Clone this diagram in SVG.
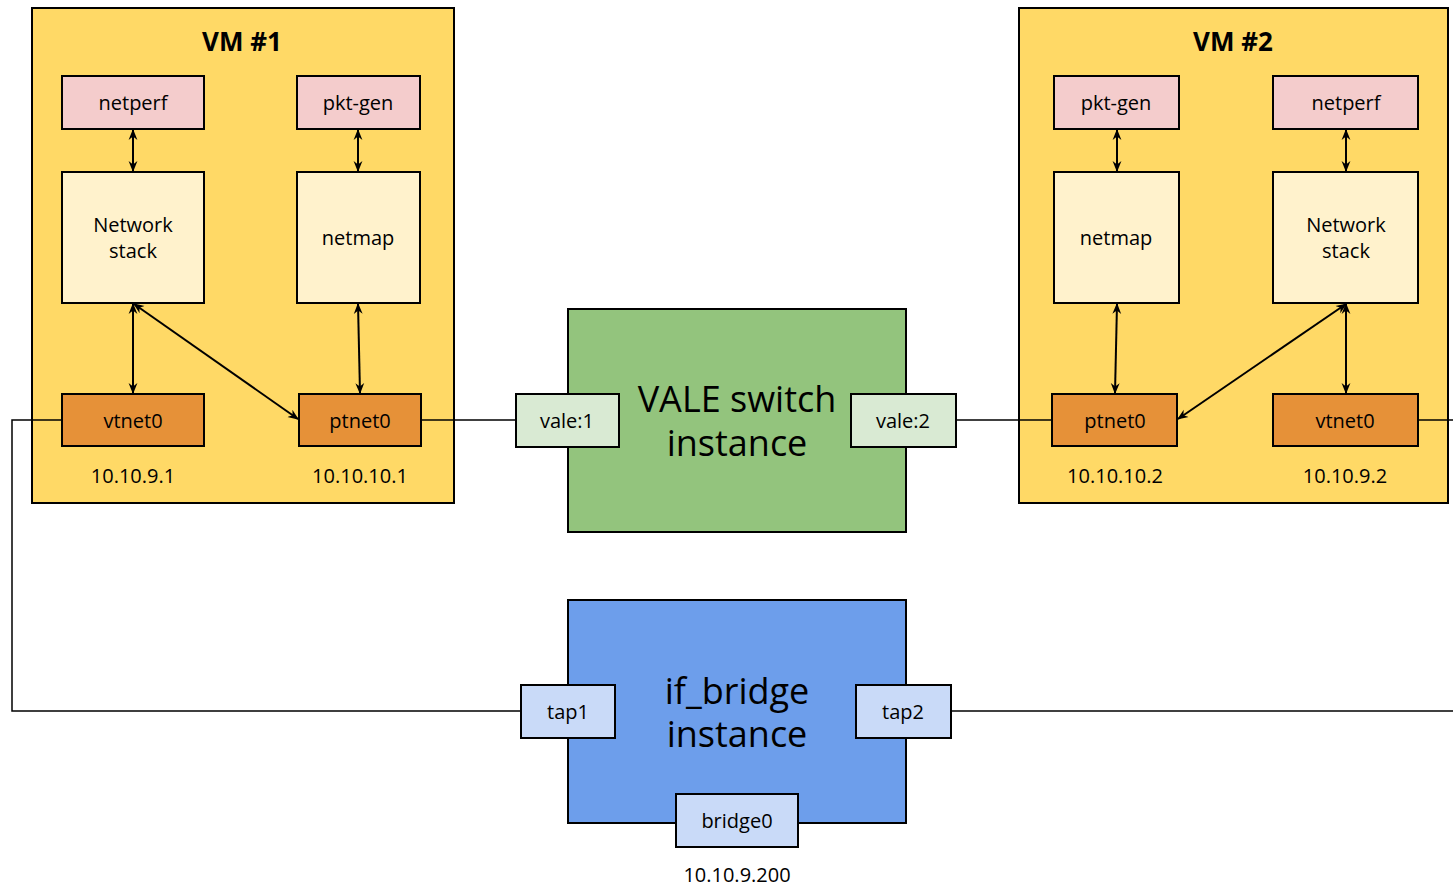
<svg xmlns="http://www.w3.org/2000/svg" width="1453" height="886" viewBox="0 0 1453 886">
  <defs>
    <style>
      text { font-family: "Open Sans", "Noto Sans", "Liberation Sans", sans-serif; fill: #000; text-anchor: middle; dominant-baseline: central; }
      .box { stroke: #000; stroke-width: 2; }
      .vm { fill: #ffd966; }
      .app { fill: #f4cccc; }
      .stack { fill: #fff2cc; }
      .nic { fill: #e69138; }
      .vale { fill: #93c47d; }
      .valeport { fill: #d9ead3; }
      .bridge { fill: #6d9eeb; }
      .bport { fill: #c9daf8; }
      .lbl { font-size: 20px; }
      .title { font-size: 26px; font-weight: bold; }
      .big { font-size: 36px; }
      .wire { fill: none; stroke: #000; stroke-width: 1.5; }
      .arr { fill: none; stroke: #000; stroke-width: 2; marker-start: url(#head); marker-end: url(#head); }
    </style>
    <marker id="head" viewBox="0 0 10 10" refX="9" refY="5" markerWidth="11" markerHeight="11" orient="auto-start-reverse" markerUnits="userSpaceOnUse">
      <path d="M0,1 L10,5 L0,9 L3,5 Z" fill="#000"/>
    </marker>
  </defs>

  <!-- VM #1 -->
  <g id="vm1">
    <rect class="box vm" x="32" y="8" width="422" height="495"/>
    <text class="title" x="242" y="41">VM #1</text>
  </g>
  <g id="vm1-netperf">
    <rect class="box app" x="62" y="76" width="142" height="53"/>
    <text class="lbl" x="133" y="102">netperf</text>
  </g>
  <g id="vm1-pktgen">
    <rect class="box app" x="297" y="76" width="123" height="53"/>
    <text class="lbl" x="358" y="102">pkt-gen</text>
  </g>
  <g id="vm1-stack">
    <rect class="box stack" x="62" y="172" width="142" height="131"/>
    <text class="lbl" x="133" y="224">Network</text>
    <text class="lbl" x="133" y="250">stack</text>
  </g>
  <g id="vm1-netmap">
    <rect class="box stack" x="297" y="172" width="123" height="131"/>
    <text class="lbl" x="358" y="237">netmap</text>
  </g>
  <g id="vm1-vtnet0">
    <rect class="box nic" x="62" y="394" width="142" height="52"/>
    <text class="lbl" x="133" y="420">vtnet0</text>
  </g>
  <g id="vm1-ptnet0">
    <rect class="box nic" x="299" y="394" width="122" height="52"/>
    <text class="lbl" x="360" y="420">ptnet0</text>
  </g>
  <g id="vm1-addrs">
    <text class="lbl" x="133" y="475">10.10.9.1</text>
    <text class="lbl" x="360" y="475">10.10.10.1</text>
  </g>

  <!-- VM #2 -->
  <g id="vm2">
    <rect class="box vm" x="1019" y="8" width="429" height="495"/>
    <text class="title" x="1233" y="41">VM #2</text>
  </g>
  <g id="vm2-pktgen">
    <rect class="box app" x="1054" y="76" width="125" height="53"/>
    <text class="lbl" x="1116" y="102">pkt-gen</text>
  </g>
  <g id="vm2-netperf">
    <rect class="box app" x="1273" y="76" width="145" height="53"/>
    <text class="lbl" x="1346" y="102">netperf</text>
  </g>
  <g id="vm2-netmap">
    <rect class="box stack" x="1054" y="172" width="125" height="131"/>
    <text class="lbl" x="1116" y="237">netmap</text>
  </g>
  <g id="vm2-stack">
    <rect class="box stack" x="1273" y="172" width="145" height="131"/>
    <text class="lbl" x="1346" y="224">Network</text>
    <text class="lbl" x="1346" y="250">stack</text>
  </g>
  <g id="vm2-ptnet0">
    <rect class="box nic" x="1052" y="394" width="125" height="52"/>
    <text class="lbl" x="1115" y="420">ptnet0</text>
  </g>
  <g id="vm2-vtnet0">
    <rect class="box nic" x="1273" y="394" width="145" height="52"/>
    <text class="lbl" x="1345" y="420">vtnet0</text>
  </g>
  <g id="vm2-addrs">
    <text class="lbl" x="1115" y="475">10.10.10.2</text>
    <text class="lbl" x="1345" y="475">10.10.9.2</text>
  </g>

  <!-- connectors -->
  <g id="connectors">
    <!-- VM #1 internal paths -->
    <line class="arr" x1="133" y1="130" x2="133" y2="171"/>
    <line class="arr" x1="358" y1="130" x2="358" y2="171"/>
    <line class="arr" x1="133" y1="304" x2="133" y2="393"/>
    <line class="arr" x1="134" y1="304" x2="298" y2="419"/>
    <line class="arr" x1="358" y1="304" x2="360" y2="393"/>
    <!-- VM #2 internal paths -->
    <line class="arr" x1="1117" y1="130" x2="1117" y2="171"/>
    <line class="arr" x1="1346" y1="130" x2="1346" y2="171"/>
    <line class="arr" x1="1117" y1="304" x2="1115" y2="393"/>
    <line class="arr" x1="1346" y1="304" x2="1178" y2="419"/>
    <line class="arr" x1="1346" y1="304" x2="1346" y2="393"/>
    <!-- links between hosts and switches -->
    <line class="wire" x1="421" y1="420" x2="516" y2="420"/>
    <line class="wire" x1="956" y1="420" x2="1052" y2="420"/>
    <polyline class="wire" points="62,420 12,420 12,711 521,711"/>
    <line class="wire" x1="1418" y1="420" x2="1453" y2="420"/>
    <line class="wire" x1="951" y1="711" x2="1453" y2="711"/>
  </g>

  <!-- VALE switch -->
  <g id="vale">
    <rect class="box vale" x="568" y="309" width="338" height="223"/>
    <text class="big" x="737" y="398">VALE switch</text>
    <text class="big" x="737" y="442">instance</text>
  </g>
  <g id="vale-1">
    <rect class="box valeport" x="516" y="394" width="103" height="53"/>
    <text class="lbl" x="567" y="420">vale:1</text>
  </g>
  <g id="vale-2">
    <rect class="box valeport" x="851" y="394" width="105" height="53"/>
    <text class="lbl" x="903" y="420">vale:2</text>
  </g>

  <!-- if_bridge -->
  <g id="bridge">
    <rect class="box bridge" x="568" y="600" width="338" height="223"/>
    <text class="big" x="737" y="690">if_bridge</text>
    <text class="big" x="737" y="733">instance</text>
  </g>
  <g id="tap1">
    <rect class="box bport" x="521" y="685" width="94" height="53"/>
    <text class="lbl" x="568" y="711">tap1</text>
  </g>
  <g id="tap2">
    <rect class="box bport" x="856" y="685" width="95" height="53"/>
    <text class="lbl" x="903" y="711">tap2</text>
  </g>
  <g id="bridge0">
    <rect class="box bport" x="676" y="794" width="122" height="53"/>
    <text class="lbl" x="737" y="820">bridge0</text>
  </g>
  <text class="lbl" x="737" y="874">10.10.9.200</text>
</svg>
